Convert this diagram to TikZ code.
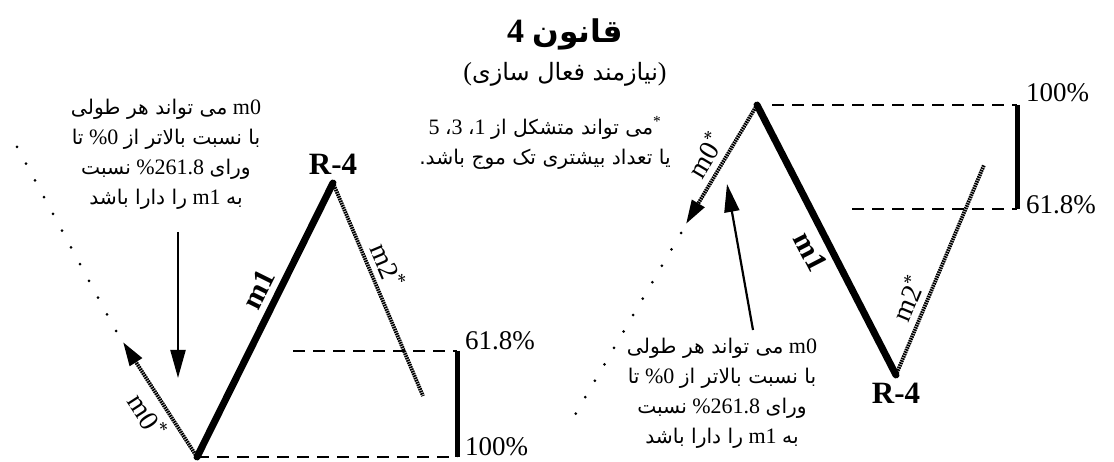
\documentclass[tikz,border=0pt]{standalone}
\usepackage{fontspec}
\setmainfont{Liberation Serif}
\newfontfamily\fa[Script=Arabic, Scale=0.92]{DejaVu Sans}
\usetikzlibrary{arrows.meta, positioning}
\TeXXeTstate=1
\newcommand{\rtl}[1]{{\beginR#1\endR}}
\newcommand{\ltr}[1]{{\beginL#1\endL}}

\begin{document}
\begin{tikzpicture}[x=1pt, y=-1pt,
    wave/.style={line width=7pt, line cap=round},
    subwave/.style={line width=3.8pt, dash pattern=on 1.6pt off 0.8pt},
    trail/.style={line width=3pt, line cap=round, dash pattern=on 0pt off 19pt},
    level/.style={line width=2.8pt, dash pattern=on 12pt off 8pt},
    bracket/.style={line width=5pt},
    pointer/.style={line width=2.2pt, -{Triangle[length=28pt, width=15pt]}},
    tip/.style={-{Triangle[length=24pt, width=14pt]}},
    pct/.style={font=\fontsize{27}{27}\selectfont, anchor=west, inner sep=0pt},
    wlabel/.style={font=\fontsize{28}{28}\selectfont, sloped, inner sep=6pt},
    wbold/.style={wlabel, font=\fontsize{30}{30}\selectfont\bfseries},
    rlabel/.style={font=\fontsize{31}{31}\selectfont\bfseries, inner sep=0pt},
    fatext/.style={align=center, font=\fontsize{22}{30}\selectfont, inner sep=0pt}
]
\useasboundingbox (0,0) rectangle (1114,462);

% title
\node[font=\fontsize{34}{34}\selectfont\bfseries] (title) at (565,34) {\rtl{{\fa قانون} \ltr{4}}};
\node[font=\fontsize{26}{26}\selectfont] (sub) at (565,74) {\rtl{)\fa نیازمند فعال سازی\normalfont(}};
\node[fatext] (note) at (545,143) {\rtl{\textsuperscript{*}{\fa می تواند متشکل از} 1{\fa ،} 3{\fa ،} 5}\\
    \rtl{\fa یا تعداد بیشتری تک موج باشد.}};

% left pattern
\coordinate (lA) at (197,457);
\coordinate (lT) at (333,183);
\coordinate (lC) at (423,396);
\coordinate (lM) at (123,342);
\coordinate (lE) at (116,331);
\coordinate (lD) at (15,143);
\coordinate (l618s) at (293,351);
\coordinate (l618) at (457,351);
\coordinate (l100) at (457,457);
\coordinate (lAs) at (178,232);
\coordinate (lAt) at (178,378);

\draw[level] (l618s) -- (l618);
\draw[level] (lA) -- (l100);
\draw[bracket] (l618) -- (l100);
\draw[wave] (lA) -- node[wbold, above, pos=0.58] {m1} (lT);
\draw[subwave] (lT) -- node[wlabel, above, pos=0.42] {m2\textsuperscript{*}} (lC);
\draw[subwave, tip] (lA) -- node[wlabel, below, pos=0.45] {m0\textsuperscript{*}} (lM);
\draw[trail] (lE) -- (lD);
\node[rlabel, above=8pt of lT] (lR) {R-4};
\node[pct] (l618t) at (465,341) {61.8\%};
\node[pct] (l100t) at (465,447) {100\%};

\node[fatext] (ltext) at (166,154) {\rtl{\ltr{m0} {\fa می تواند هر طولی}}\\
    \rtl{{\fa با نسبت بالاتر از} \ltr{\%0} {\fa تا}}\\
    \rtl{{\fa ورای} \ltr{\%261.8} {\fa نسبت}}\\
    \rtl{{\fa به} \ltr{m1} {\fa را دارا باشد}}};
\draw[pointer] (lAs) -- (lAt);

% right pattern
\coordinate (rP) at (757,105);
\coordinate (rB) at (896,375);
\coordinate (rC) at (984,165);
\coordinate (rM) at (686,224);
\coordinate (rE) at (681,233);
\coordinate (rD) at (572,420);
\coordinate (r100s) at (772,105);
\coordinate (r100) at (1017,105);
\coordinate (r618s) at (852,209);
\coordinate (r618) at (1017,209);
\coordinate (rAs) at (753,330);
\coordinate (rAt) at (727,184);

\draw[level] (r100s) -- (r100);
\draw[level] (r618s) -- (r618);
\draw[bracket] (r100) -- (r618);
\draw[wave] (rP) -- node[wbold, below, pos=0.51] {m1} (rB);
\draw[subwave] (rB) -- node[wlabel, above, pos=0.33] {m2\textsuperscript{*}} (rC);
\draw[subwave, tip] (rP) -- node[wlabel, above, pos=0.5] {m0\textsuperscript{*}} (rM);
\draw[trail] (rE) -- (rD);
\node[rlabel, below=8pt of rB] (rR) {R-4};
\node[pct] (r100t) at (1026,93) {100\%};
\node[pct] (r618t) at (1026,205) {61.8\%};

\node[fatext] (rtext) at (722,393) {\rtl{\ltr{m0} {\fa می تواند هر طولی}}\\
    \rtl{{\fa با نسبت بالاتر از} \ltr{\%0} {\fa تا}}\\
    \rtl{{\fa ورای} \ltr{\%261.8} {\fa نسبت}}\\
    \rtl{{\fa به} \ltr{m1} {\fa را دارا باشد}}};
\draw[pointer] (rAs) -- (rAt);
\end{tikzpicture}
\end{document}
